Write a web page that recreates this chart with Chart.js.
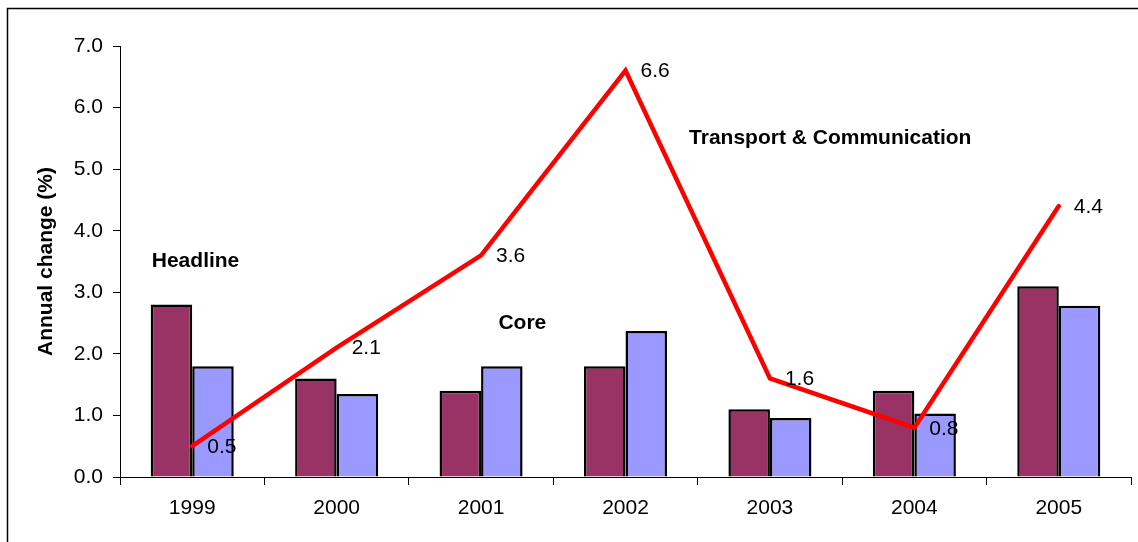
<!DOCTYPE html>
<html>
<head>
<meta charset="utf-8">
<script src="https://cdn.jsdelivr.net/npm/chart.js@4.4.1/dist/chart.umd.min.js"></script>
<style>
  html, body { margin: 0; padding: 0; background: #fff; }
  #wrap { width: 1138px; height: 542px; }
</style>
</head>
<body>
<div id="wrap"><canvas id="cpiChart" width="1138" height="542"></canvas></div>
<script>
// values
const years = ['1999', '2000', '2001', '2002', '2003', '2004', '2005'];
const headline = [2.8, 1.6, 1.4, 1.8, 1.1, 1.4, 3.1];
const core = [1.8, 1.35, 1.8, 2.37, 0.96, 1.03, 2.78];
const transport = [0.5, 2.1, 3.6, 6.6, 1.6, 0.8, 4.4];
const yTicks = [0, 1, 2, 3, 4, 5, 6, 7];

// in-chart series names: category index, shift in category widths, y value
const seriesNotes = [
  { text: 'Headline', cat: 0, shift: -0.28, y: 3.5 },
  { text: 'Core', cat: 2, shift: 0.12, y: 2.5 },
  { text: 'Transport & Communication', cat: 3, shift: 0.44, y: 5.5 }
];

const FONT = 'Liberation Sans, Arial, sans-serif';

const frame = {
  id: 'frame',
  beforeDraw(chart) {
    const c = chart.ctx;
    c.save();
    c.fillStyle = '#fff';
    c.fillRect(0, 0, chart.width, chart.height);
    c.strokeStyle = '#000';
    c.lineWidth = 1.5;
    c.strokeRect(7.5, 8.5, chart.width + 20, chart.height + 20);
    c.restore();
  }
};

const notes = {
  id: 'notes',
  afterDatasetsDraw(chart) {
    const c = chart.ctx;
    const x = chart.scales.x;
    const y = chart.scales.y;
    const catW = x.width / years.length;
    c.save();
    c.fillStyle = '#000';
    c.textBaseline = 'middle';
    c.textAlign = 'left';

    // values on the line
    c.font = '21px ' + FONT;
    const meta = chart.getDatasetMeta(2);
    meta.data.forEach((pt, i) => {
      c.fillText(transport[i].toFixed(1), pt.x + 15, pt.y + 1);
    });

    // series names
    c.font = 'bold 21px ' + FONT;
    seriesNotes.forEach(n => {
      c.fillText(n.text, x.getPixelForValue(n.cat) + n.shift * catW, y.getPixelForValue(n.y));
    });
    c.restore();
  }
};

new Chart(document.getElementById('cpiChart'), {
  type: 'bar',
  data: {
    labels: years,
    datasets: [
      {
        label: 'Headline',
        data: headline,
        backgroundColor: '#993366',
        borderColor: '#000',
        borderWidth: 2.5,
        order: 1
      },
      {
        label: 'Core',
        data: core,
        backgroundColor: '#9999FF',
        borderColor: '#000',
        borderWidth: 2.5,
        order: 2
      },
      {
        type: 'line',
        label: 'Transport & Communication',
        data: transport,
        borderColor: '#FF0000',
        borderWidth: 4.5,
        borderCapStyle: 'round',
        borderJoinStyle: 'miter',
        pointRadius: 0,
        tension: 0,
        fill: false,
        order: 0
      }
    ]
  },
  options: {
    responsive: false,
    animation: false,
    devicePixelRatio: 1,
    layout: { padding: { top: 46, right: 7, left: 0, bottom: 0 } },
    datasets: {
      bar: { categoryPercentage: 0.575, barPercentage: 1.0 }
    },
    scales: {
      x: {
        grid: {
          display: true,
          drawOnChartArea: false,
          offset: true,
          tickLength: 8,
          color: '#000'
        },
        border: { color: '#000', width: 1 },
        ticks: {
          color: '#000',
          padding: 11,
          font: { family: FONT, size: 21 }
        },
        afterFit(scale) { scale.height = 65; }
      },
      y: {
        min: 0,
        max: 7,
        afterBuildTicks(scale) {
          scale.ticks = yTicks.map(v => ({ value: v }));
        },
        grid: {
          display: true,
          drawOnChartArea: false,
          tickLength: 7,
          color: '#000'
        },
        border: { color: '#000', width: 1 },
        ticks: {
          color: '#000',
          padding: 10,
          font: { family: FONT, size: 21 },
          callback: v => Number(v).toFixed(1)
        },
        title: {
          display: true,
          text: 'Annual change (%)',
          color: '#000',
          padding: { top: 34, bottom: 0 },
          font: { family: FONT, size: 21, weight: 'bold' }
        },
        afterFit(scale) { scale.width = 120; }
      }
    },
    plugins: {
      legend: { display: false },
      tooltip: { enabled: false }
    }
  },
  plugins: [frame, notes]
});
</script>
</body>
</html>
